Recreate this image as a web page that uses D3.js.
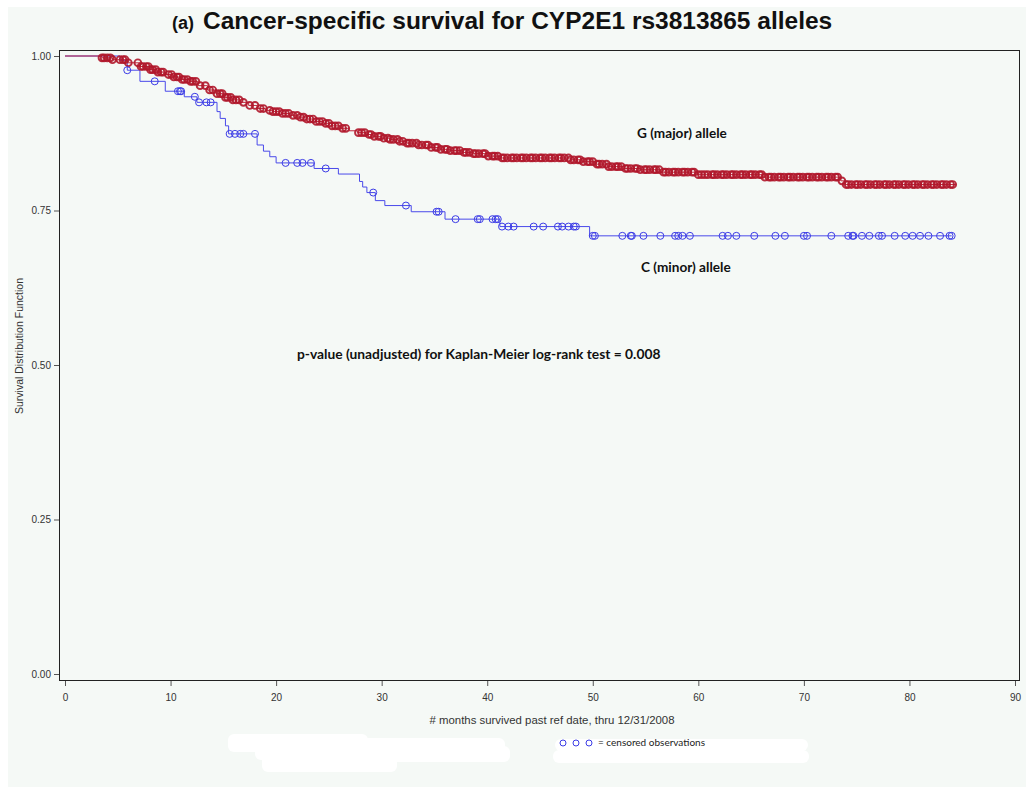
<!DOCTYPE html>
<html>
<head>
<meta charset="utf-8">
<script src="https://cdn.jsdelivr.net/npm/d3@7"></script>
<style>
  body { margin: 0; background: #fff; }
  svg { display: block; }
</style>
</head>
<body>
<div id="chart"></div>
<script>
// Kaplan-Meier step points [months, survival]
const majorSteps = [
  [0, 1.0], [3.5, 0.997], [4.5, 0.994], [5.9, 0.989], [7.1, 0.983], [8.0, 0.978],
  [8.7, 0.974], [9.5, 0.970], [10.2, 0.966], [11.0, 0.962], [11.8, 0.959], [12.6, 0.952],
  [13.5, 0.945], [14.3, 0.939], [15.0, 0.933], [15.8, 0.929], [16.6, 0.925], [17.4, 0.920],
  [18.2, 0.915], [19.0, 0.912], [19.7, 0.910], [20.5, 0.907], [21.3, 0.904], [22.1, 0.901],
  [22.9, 0.898], [23.7, 0.894], [24.5, 0.891], [25.3, 0.887], [26.1, 0.883], [26.9, 0.879],
  [27.7, 0.876], [28.5, 0.873], [29.2, 0.870], [30.0, 0.867], [30.8, 0.865], [31.6, 0.862],
  [32.4, 0.859], [33.4, 0.856], [34.5, 0.852], [35.5, 0.849], [36.5, 0.847], [37.6, 0.844],
  [38.7, 0.842], [40.0, 0.838], [41.2, 0.835], [47.9, 0.832], [49.0, 0.829], [50.2, 0.825],
  [51.4, 0.821], [53.0, 0.818], [54.5, 0.816], [56.4, 0.812], [59.9, 0.808], [66.1, 0.804],
  [73.5, 0.798], [73.9, 0.792], [84.4, 0.792]
];

const minorSteps = [
  [0, 1.0], [5.2, 0.993], [5.9, 0.977], [7.1, 0.959], [9.5, 0.943], [11.3, 0.934],
  [12.5, 0.925], [14.4, 0.910], [14.7, 0.899], [15.2, 0.887], [15.5, 0.874], [18.2, 0.856],
  [18.8, 0.846], [19.4, 0.837], [20.0, 0.827], [23.6, 0.818], [25.9, 0.809], [27.9, 0.797],
  [28.2, 0.788], [28.6, 0.779], [29.4, 0.766], [30.3, 0.758], [32.8, 0.748], [36.0, 0.736],
  [41.2, 0.724], [49.7, 0.709], [84.0, 0.709]
];

// censoring times (months)
const majorCensored = [
  3.5, 3.7, 4.0, 4.3, 4.5, 5.2, 5.5, 5.7, 6.0, 6.9, 7.2, 7.4, 7.7, 7.9, 8.1, 8.3, 8.6, 8.8,
  9.1, 9.3, 9.8, 10.1, 10.3, 10.6, 10.8, 11.1, 11.3, 11.6, 11.9, 12.1, 12.4, 12.8, 13.3,
  13.7, 14.0, 14.4, 14.7, 14.9, 15.2, 15.4, 15.7, 15.9, 16.2, 16.5, 16.9, 17.5, 18.0, 18.5,
  18.8, 19.4, 19.7, 20.0, 20.3, 20.6, 20.9, 21.2, 21.6, 22.0, 22.3, 22.6, 22.9, 23.2, 23.5,
  23.8, 24.1, 24.4, 24.7, 25.0, 25.3, 25.6, 25.9, 26.3, 26.6, 27.8, 28.1, 28.4, 28.8, 29.0,
  29.3, 29.7, 29.9, 30.2, 30.6, 30.8, 31.1, 31.5, 31.7, 32.0, 32.4, 32.6, 32.9, 33.3, 33.5,
  33.8, 34.2, 34.4, 34.7, 35.1, 35.3, 35.6, 36.0, 36.2, 36.5, 36.9, 37.1, 37.4, 37.8, 38.0,
  38.3, 38.7, 38.9, 39.2, 39.6, 39.8, 40.1, 40.5, 40.7, 41.0, 41.4, 41.6, 41.9, 42.3, 42.5,
  42.8, 43.2, 43.4, 43.7, 44.1, 44.3, 44.6, 45.0, 45.2, 45.5, 45.9, 46.1, 46.4, 46.8, 47.0,
  47.3, 47.7, 47.9, 48.2, 48.6, 48.8, 49.1, 49.5, 49.7, 50.0, 50.4, 50.6, 50.9, 51.3, 51.5,
  51.8, 52.2, 52.4, 52.7, 53.1, 53.3, 53.6, 54.0, 54.2, 54.5, 54.9, 55.1, 55.4, 55.8, 56.0,
  56.3, 56.7, 56.9, 57.2, 57.6, 57.8, 58.1, 58.5, 58.7, 59.0, 59.4, 59.6, 60.0, 60.3, 60.6,
  60.9, 61.3, 61.5, 61.8, 62.2, 62.4, 62.7, 63.1, 63.3, 63.6, 64.0, 64.2, 64.5, 64.9, 65.1,
  65.4, 65.8, 66.0, 66.3, 66.7, 66.9, 67.2, 67.6, 67.8, 68.1, 68.5, 68.7, 69.0, 69.4, 69.6,
  69.9, 70.3, 70.5, 70.8, 71.2, 71.4, 71.7, 72.1, 72.3, 72.6, 73.0, 73.2, 73.6, 74.0, 74.2,
  74.5, 74.9, 75.1, 75.4, 75.8, 76.0, 76.3, 76.7, 76.9, 77.2, 77.6, 77.8, 78.1, 78.5, 78.7,
  79.0, 79.4, 79.6, 79.9, 80.3, 80.5, 80.8, 81.2, 81.4, 81.7, 82.1, 82.3, 82.6, 83.0, 83.2,
  83.5, 83.9, 84.1
];

const minorCensored = [
  5.9, 8.5, 10.7, 10.9, 11.0, 12.3, 12.7, 13.4, 13.8, 15.6, 16.1, 16.6, 16.9, 18.0, 20.9,
  22.0, 22.5, 23.3, 24.7, 29.2, 32.3, 35.2, 35.4, 37.0, 39.1, 39.3, 40.5, 40.8, 41.0, 41.4,
  42.0, 42.5, 44.4, 45.3, 46.7, 47.1, 47.7, 48.2, 48.4, 50.0, 50.2, 52.8, 53.6, 53.7, 54.8,
  56.4, 57.8, 58.1, 58.5, 59.2, 62.3, 62.8, 63.6, 65.3, 67.3, 68.2, 70.0, 70.3, 72.6, 74.2,
  74.6, 74.7, 75.5, 76.2, 77.1, 77.4, 78.6, 79.6, 80.3, 81.0, 81.8, 82.9, 83.8, 84.0
];

const xTicks = [0, 10, 20, 30, 40, 50, 60, 70, 80, 90];
const yTicks = [0, 0.25, 0.5, 0.75, 1.0];

const WIDTH = 1026, HEIGHT = 787;
const BG = "#f5f9f6";
const RED = "#b0172b", RED_LINE = "#c0283e";
const BLUE = "#3b3be6", BLUE_LINE = "#4a4aea";

const x = d3.scaleLinear().domain([0, 90]).range([65, 1015]);
const y = d3.scaleLinear().domain([0, 1]).range([674, 56]);

const svg = d3.select("#chart").append("svg")
  .attr("width", WIDTH)
  .attr("height", HEIGHT)
  .style("font-family", "'Liberation Sans', Arial, sans-serif");

svg.append("rect").attr("x", 0).attr("y", 0).attr("width", WIDTH).attr("height", HEIGHT).attr("fill", "#fff");
svg.append("rect").attr("x", 8).attr("y", 7).attr("width", WIDTH - 8).attr("height", HEIGHT - 7).attr("fill", BG);

// title
const narrow = "'Liberation Sans Narrow', 'Liberation Sans', Arial, sans-serif";
const title = svg.append("text").attr("x", 172).attr("y", 29).attr("fill", "#111")
  .attr("font-family", narrow).attr("font-weight", "bold");
title.append("tspan").attr("font-size", 18).text("(a)");
title.append("tspan").attr("dx", 9).attr("font-size", 24.5)
  .text("Cancer-specific survival for CYP2E1 rs3813865 alleles");

// axes
const xAxis = svg.append("g")
  .attr("transform", "translate(0,680)")
  .call(d3.axisBottom(x).tickValues(xTicks).tickFormat(d3.format("d")).tickSize(6).tickPadding(8).tickSizeOuter(0));
xAxis.select(".domain").remove();

const yAxis = svg.append("g")
  .attr("transform", "translate(59,0)")
  .call(d3.axisLeft(y).tickValues(yTicks).tickFormat(d3.format(".2f")).tickSize(5).tickPadding(3).tickSizeOuter(0));
yAxis.select(".domain").remove();

svg.selectAll(".tick line").attr("stroke", "#555");
svg.selectAll(".tick text").attr("fill", "#333").attr("font-size", 10)
  .attr("font-family", "'Liberation Sans', Arial, sans-serif");

// plot frame
svg.append("rect")
  .attr("x", 59.5).attr("y", 50.5).attr("width", 960).attr("height", 630)
  .attr("fill", "none").attr("stroke", "#222").attr("stroke-width", 1);

svg.append("text")
  .attr("x", 552).attr("y", 724)
  .attr("text-anchor", "middle").attr("font-size", 11.4).attr("fill", "#333")
  .text("# months survived past ref date, thru 12/31/2008");

svg.append("text")
  .attr("transform", "translate(23,346) rotate(-90)")
  .attr("text-anchor", "middle").attr("font-size", 10.5).attr("fill", "#333")
  .text("Survival Distribution Function");

// step curves
const line = d3.line().x(d => x(d[0])).y(d => y(d[1])).curve(d3.curveStepAfter);

function survivalAt(steps, t) {
  let s = steps[0][1];
  for (const d of steps) { if (d[0] <= t) s = d[1]; }
  return s;
}

svg.append("path").datum(minorSteps)
  .attr("d", line).attr("fill", "none").attr("stroke", BLUE_LINE).attr("stroke-width", 1);

svg.append("path").datum(majorSteps)
  .attr("d", line).attr("fill", "none").attr("stroke", RED_LINE).attr("stroke-width", 1);

svg.append("g").selectAll("circle")
  .data(majorCensored)
  .join("circle")
  .attr("cx", d => x(d))
  .attr("cy", d => y(survivalAt(majorSteps, d)))
  .attr("r", 3.4)
  .attr("fill", "none")
  .attr("stroke", RED)
  .attr("stroke-opacity", 0.9)
  .attr("stroke-width", 1.9);

svg.append("g").selectAll("circle")
  .data(minorCensored)
  .join("circle")
  .attr("cx", d => x(d))
  .attr("cy", d => y(survivalAt(minorSteps, d)))
  .attr("r", 3.5)
  .attr("fill", "none")
  .attr("stroke", BLUE)
  .attr("stroke-width", 1);

// annotations
const noteFont = "Lato, 'Open Sans', sans-serif";
svg.append("text").attr("x", 637).attr("y", 138)
  .attr("font-family", noteFont).attr("font-weight", "bold").attr("font-size", 13.6).attr("fill", "#111")
  .text("G (major) allele");
svg.append("text").attr("x", 641).attr("y", 272)
  .attr("font-family", noteFont).attr("font-weight", "bold").attr("font-size", 13.6).attr("fill", "#111")
  .text("C (minor) allele");
svg.append("text").attr("x", 297).attr("y", 359)
  .attr("font-family", noteFont).attr("font-weight", "bold").attr("font-size", 13.8).attr("fill", "#111")
  .text("p-value (unadjusted) for Kaplan-Meier log-rank test = 0.008");

// redacted patches at the bottom
const patches = svg.append("g").attr("fill", "#fff");
[[228, 734, 140, 18], [255, 738, 250, 22], [262, 752, 135, 20], [380, 746, 130, 16],
 [555, 739, 253, 12], [553, 750, 256, 13]].forEach(p => {
  patches.append("rect").attr("x", p[0]).attr("y", p[1]).attr("width", p[2]).attr("height", p[3]).attr("rx", 6);
});

// censor legend
const legendTimes = [0, 1, 2];
svg.append("g").selectAll("circle")
  .data(legendTimes)
  .join("circle")
  .attr("cx", d => 563 + d * 13)
  .attr("cy", 743)
  .attr("r", 3)
  .attr("fill", "none")
  .attr("stroke", BLUE)
  .attr("stroke-width", 1);
svg.append("text").attr("x", 598).attr("y", 746)
  .attr("font-family", noteFont).attr("font-size", 10).attr("fill", "#222")
  .text("= censored observations");
</script>
</body>
</html>
